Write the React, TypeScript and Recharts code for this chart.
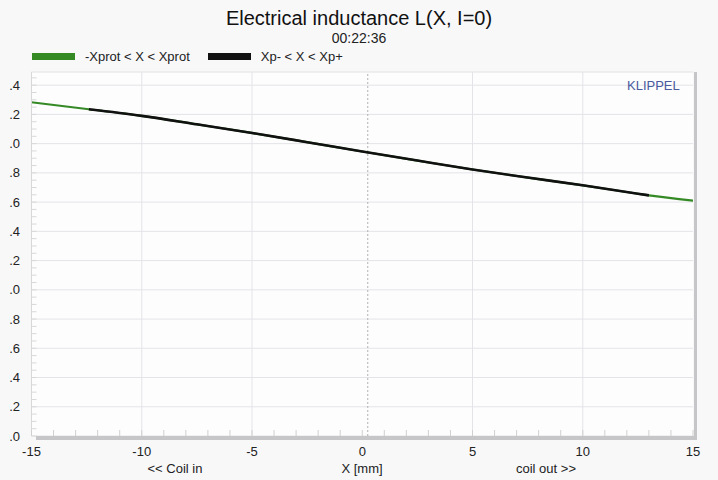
import React from 'react';
import { LineChart, Line, XAxis, YAxis, CartesianGrid, ReferenceLine, Legend } from 'recharts';

// displacement X [mm] and inductance L
const positionMm = [-15, -12.4, -10, -7.5, -5, -2.5, 0, 2.5, 5, 7.5, 10, 12.5, 13, 15];
const inductance = [2.283, 2.235, 2.19, 2.132, 2.073, 2.01, 1.946, 1.884, 1.823, 1.768, 1.715, 1.657, 1.646, 1.61];
const xpMinus = -12.4;
const xpPlus = 13;
const restPosition = 0.25;

const xLabelTicks = [-15, -10, -5, 0, 5, 10, 15];
const xGridValues = [-10, -5, 5, 10];
const yLabelTicks = [0, 0.2, 0.4, 0.6, 0.8, 1.0, 1.2, 1.4, 1.6, 1.8, 2.0, 2.2, 2.4];
const xMinorTicks = Array.from({ length: 31 }, (_, i) => i - 15);
const yMinorTicks = Array.from({ length: 50 }, (_, i) => Math.round(i * 5) / 100);
const yMax = 2.49;

const FONT = '"Liberation Sans", Arial, sans-serif';
const BG = '#f8f8f9';

const data = positionMm.map((x, i) => ({
  x,
  prot: inductance[i],
  xp: x >= xpMinus && x <= xpPlus ? inductance[i] : null,
}));

const XTick = (props: any) => {
  const { x, y, payload } = props;
  const v = payload.value;
  return (
    <g>
      <line x1={x} x2={x} y1={y} y2={y - 6} stroke="#d0d0d0" strokeWidth={1} />
      {xLabelTicks.includes(v) && (
        <text x={x} y={y + 20} textAnchor="middle" fontSize={13} fill="#222" fontFamily={FONT}>
          {v}
        </text>
      )}
    </g>
  );
};

const YTick = (props: any) => {
  const { x, y, payload, index } = props;
  const v = payload.value;
  const major = Math.round(v * 100) % 20 === 0;
  return (
    <g>
      <line x1={x} x2={x + 5} y1={y} y2={y} stroke="#d8d8d8" strokeWidth={1} />
      {major && (
        <>
          <defs>
            <clipPath id={`ylab-${index}`}>
              <rect x={9.5} y={y - 12} width={40} height={24} />
            </clipPath>
          </defs>
          <text
            x={x - 11.5}
            y={y}
            dy="0.35em"
            textAnchor="end"
            fontSize={13}
            fill="#222"
            fontFamily={FONT}
            clipPath={`url(#ylab-${index})`}
          >
            {v.toFixed(1)}
          </text>
        </>
      )}
    </g>
  );
};

const LegendContent = (props: any) => {
  const { payload } = props;
  return (
    <div style={{ display: 'flex', alignItems: 'center', fontFamily: FONT, fontSize: 13, color: '#222' }}>
      {payload.map((p: any) => (
        <div key={p.value} style={{ display: 'flex', alignItems: 'center', marginRight: 18 }}>
          <span style={{ display: 'inline-block', width: 43, height: 7, background: p.color, marginRight: 10 }} />
          <span>{p.value}</span>
        </div>
      ))}
    </div>
  );
};

const abs = (left: number, top: number, extra: React.CSSProperties = {}): React.CSSProperties => ({
  position: 'absolute',
  left,
  top,
  fontFamily: FONT,
  ...extra,
});

export default function App() {
  return (
    <div style={{ position: 'relative', width: 718, height: 480, background: BG, overflow: 'hidden' }}>
      <style>{'body{margin:0}'}</style>
      <div style={abs(0, 7, { width: 718, textAlign: 'center', fontSize: 20, lineHeight: '22px', color: '#111' })}>
        Electrical inductance L(X, I=0)
      </div>
      <div style={abs(0, 30, { width: 718, textAlign: 'center', fontSize: 14, lineHeight: '16px', color: '#222' })}>
        00:22:36
      </div>

      <LineChart width={718} height={480} data={data} margin={{ top: 72, right: 25, bottom: 0, left: 0 }}>
        <CartesianGrid
          fill="#fdfdfe"
          stroke="#e4e4e8"
          verticalValues={xGridValues}
          horizontalValues={yLabelTicks}
        />
        <XAxis
          type="number"
          dataKey="x"
          domain={[-15, 15]}
          ticks={xMinorTicks}
          interval={0}
          allowDataOverflow
          tickLine={false}
          axisLine={false}
          tickSize={0}
          tickMargin={0}
          height={44}
          tick={<XTick />}
        />
        <YAxis
          type="number"
          domain={[0, yMax]}
          ticks={yMinorTicks}
          interval={0}
          allowDataOverflow
          width={31.5}
          tickLine={false}
          axisLine={{ stroke: '#d8d8d8' }}
          tickSize={0}
          tickMargin={0}
          tick={<YTick />}
        />
        <ReferenceLine y={yMax} stroke="#e2e2e6" />
        <ReferenceLine x={restPosition} stroke="#b0b0b0" strokeDasharray="2 2" />
        <Legend
          layout="horizontal"
          verticalAlign="middle"
          align="center"
          wrapperStyle={{ top: 49, left: 32, width: 'auto' }}
          content={<LegendContent />}
        />
        <Line
          type="monotone"
          dataKey="prot"
          name="-Xprot < X < Xprot"
          stroke="#358a26"
          strokeWidth={2.2}
          dot={false}
          isAnimationActive={false}
        />
        <Line
          type="monotone"
          dataKey="xp"
          name="Xp- < X < Xp+"
          stroke="#111111"
          strokeWidth={2.6}
          dot={false}
          isAnimationActive={false}
        />
      </LineChart>

      <div style={abs(36, 436, { width: 661, height: 4, background: '#c6c6c8' })} />
      <div style={abs(694, 72, { width: 3, height: 368, background: '#c6c6c8' })} />
      <div style={abs(627, 78, { fontSize: 13, lineHeight: '16px', color: '#4a5a9e' })}>KLIPPEL</div>

      <div style={abs(115, 461, { width: 120, textAlign: 'center', fontSize: 13, lineHeight: '16px', color: '#222' })}>
        {'<< Coil in'}
      </div>
      <div style={abs(302, 461, { width: 120, textAlign: 'center', fontSize: 13, lineHeight: '16px', color: '#222' })}>
        X [mm]
      </div>
      <div style={abs(486, 461, { width: 120, textAlign: 'center', fontSize: 13, lineHeight: '16px', color: '#222' })}>
        {'coil out >>'}
      </div>
    </div>
  );
}
